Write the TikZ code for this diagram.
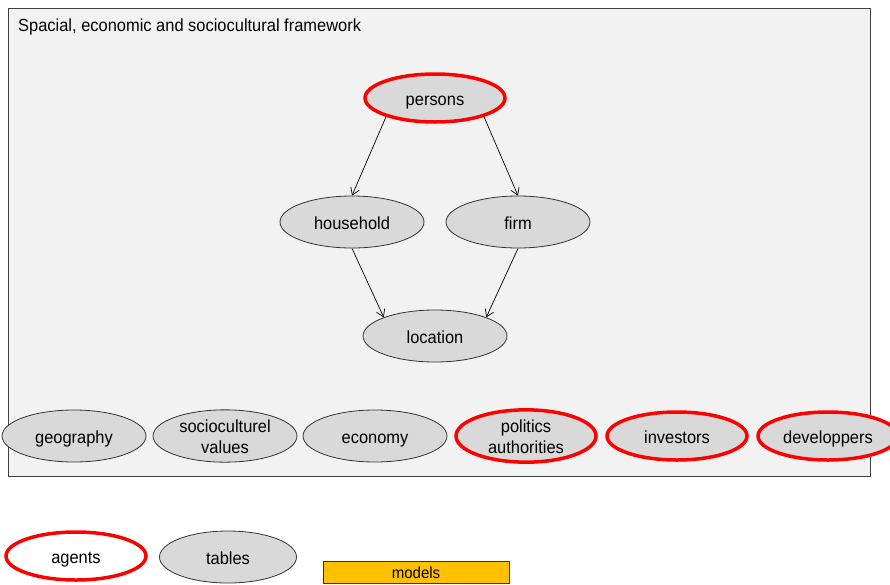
\documentclass[tikz,border=0pt]{standalone}
\usepackage{fontspec}
\setmainfont[FakeStretch=0.94]{Liberation Sans}
\usetikzlibrary{shapes.geometric,arrows.meta}
\definecolor{cellgray}{HTML}{D9D9D9}
\definecolor{framegray}{HTML}{F2F2F2}
\definecolor{agentred}{HTML}{FF0000}
\definecolor{modelorange}{HTML}{FFC000}
\begin{document}
\begin{tikzpicture}[x=1pt,y=-1pt,
  every node/.style={font=\fontsize{17.5}{21}\selectfont},
  blob/.style={ellipse, inner sep=0pt, align=center, minimum width=144pt,
    minimum height=52pt, text height=15pt, text depth=1pt,
    fill=cellgray, draw=black!80, line width=0.8pt},
  agent/.style={blob, draw=agentred, line width=3.5pt,
    minimum width=140pt, minimum height=48pt},
  twoline/.style={text height=36pt, text depth=1pt},
  link/.style={-{Straight Barb[length=7pt,width=9pt]}, line width=0.7pt}]
\clip (0,0) rectangle (890,584);
\useasboundingbox (0,0) rectangle (890,584);

% framework box
\draw[fill=framegray, draw=black!75, line width=1pt] (8,8) rectangle (870,476);
\node[anchor=base west, inner sep=0pt] (title) at (18,31.5)
  {Spacial, economic and sociocultural framework};

% agents and tables inside the framework
\node[agent] (persons) at (435,98) {persons};
\node[blob] (household) at (352,222) {household};
\node[blob] (firm) at (518,222) {firm};
\node[blob] (location) at (435,336) {location};

\node[blob] (geography) at (74,436) {geography};
\node[blob, twoline] (values) at (225,436) {socioculturel\\values};
\node[blob] (economy) at (375,436) {economy};
\node[agent, twoline] (politics) at (526,436) {politics\\authorities};
\node[agent] (investors) at (677,436) {investors};
\node[agent] (developpers) at (828,436) {developpers};

% relations
\draw[link] (persons.201) -- (household.north);
\draw[link] (persons.339) -- (firm.north);
\draw[link] (household.south) -- (location.160);
\draw[link] (firm.south) -- (location.20);

% legend
\node[agent, fill=white] (agents) at (76,556) {agents};
\node[blob, minimum width=137pt] (tables) at (228,557) {tables};
\node[draw=black!80, fill=modelorange, line width=0.8pt, inner sep=0pt,
  minimum width=186pt, minimum height=22pt, text height=13pt, text depth=1pt,
  font=\fontsize{16}{18}\selectfont] (models) at (416,572) {models};
\end{tikzpicture}
\end{document}
